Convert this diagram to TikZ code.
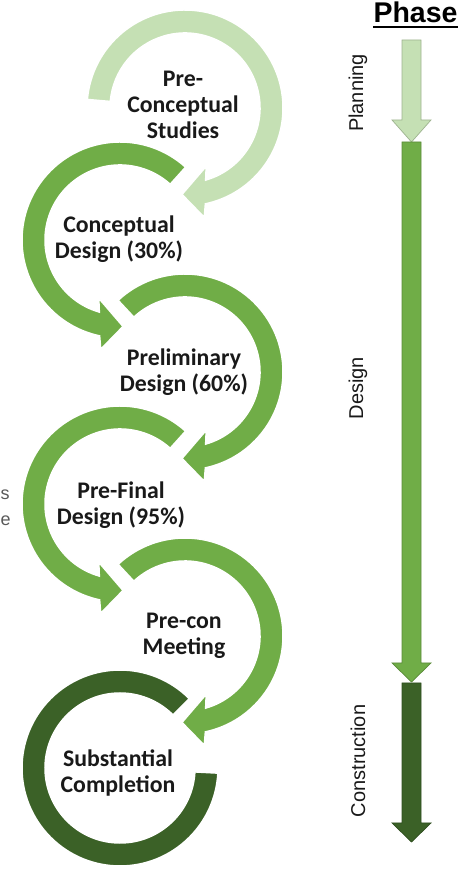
\documentclass[tikz,border=0pt]{standalone}
\usepackage{fontspec}
\setmainfont{Carlito}
\newfontfamily\arialfont{Liberation Sans}
\definecolor{lightg}{HTML}{C5E0B4}
\definecolor{midg}{HTML}{70AD47}
\definecolor{darkg}{HTML}{3B6127}
\newcommand\ringR[3]{\path[ring=#3,shift={#1}] (#2:98pt) arc[start angle=#2,end angle=-78,radius=98pt] -- (-80:111pt) -- (-92:86.5pt) -- (-70:62pt) -- (-74:75pt) arc[start angle=-74,end angle=#2,radius=75pt] -- cycle;}
\newcommand\ringL[2]{\path[ring=#2,shift={#1}] (48:98pt) arc[start angle=48,end angle=258,radius=98pt] -- (260:111pt) -- (272:86.5pt) -- (250:62pt) -- (254:75pt) arc[start angle=254,end angle=48,radius=75pt] -- cycle;}
\begin{document}
\begin{tikzpicture}[x=1pt,y=1pt,
  ring/.style={fill=#1, draw=white, line width=1.5pt, line join=miter},
  lbl/.style={font=\bfseries\fontsize{23.8}{26}\selectfont, align=center, text=black!90, inner sep=0pt},
  phaselbl/.style={font=\arialfont\fontsize{20}{23}\selectfont, rotate=90, text=black!90, inner sep=0pt},
  phasearrow/.style={fill=#1, draw=#1!80!black, line width=0.7pt, line join=miter},
  fragtext/.style={anchor=west, font=\arialfont\fontsize{18}{22}\selectfont, text=black!65, inner sep=0pt},
]
\useasboundingbox (0,0) rectangle (461,869);
% circular arrows
\ringR{(185,761)}{175}{lightg}
\ringL{(120,629)}{midg}
\ringR{(185,497)}{133}{midg}
\ringL{(120,365)}{midg}
\ringR{(185,233)}{133}{midg}
\path[ring=darkg,shift={(120,101)}] (45:98pt) arc[start angle=45,end angle=357,radius=98pt] -- (357:75pt) arc[start angle=357,end angle=45,radius=75pt] -- cycle;
% labels
\node[lbl] (pcs) at (183,764) {Pre-\\Conceptual\\Studies};
\node[lbl] (cd) at (119,630) {Conceptual\\Design (30\%)};
\node[lbl] (pd) at (184,497) {Preliminary\\Design (60\%)};
\node[lbl] (pfd) at (121,364) {Pre-Final\\Design (95\%)};
\node[lbl] (pcm) at (184,233) {Pre-con\\Meeting};
\node[lbl] (sc) at (118,96) {Substantial\\Completion};
% phase column
\node[font=\arialfont\bfseries\fontsize{28.5}{31}\selectfont, inner sep=0pt, anchor=base] (phase) at (415.5,846) {Phase};
\draw[line width=2.2pt] ([yshift=-4pt]phase.base west) -- ([yshift=-4pt]phase.base east);
\path[phasearrow=lightg] (402,829) -- (421,829) -- (421,749) -- (431,749) -- (411.5,727) -- (392,749) -- (402,749) -- cycle;
\path[phasearrow=midg] (402,727) -- (421,727) -- (421,206) -- (431,206) -- (411.5,187) -- (392,206) -- (402,206) -- cycle;
\path[phasearrow=darkg] (402,186) -- (421,186) -- (421,46) -- (431,46) -- (411.5,27) -- (392,46) -- (402,46) -- cycle;
\node[phaselbl] (planning) at (358,776) {Planning};
\node[phaselbl] (design) at (358,481) {Design};
\node[phaselbl] (construction) at (358,108) {Construction};
% fragments at the left edge
\node[fragtext] (fragS) at (0.5,374) {s};
\node[fragtext] (fragE) at (0.5,348) {e};
\end{tikzpicture}
\end{document}
